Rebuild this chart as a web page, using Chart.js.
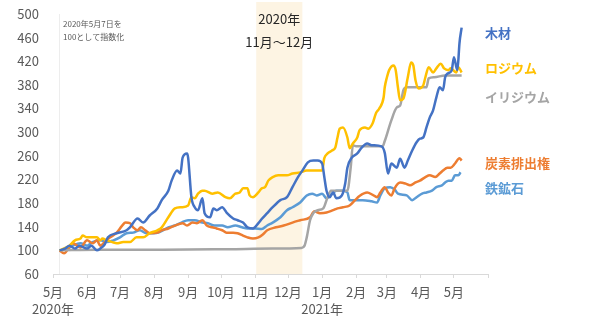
<!DOCTYPE html>
<html><head><meta charset="utf-8">
<script src="https://cdn.jsdelivr.net/npm/chart.js@4.4.1/dist/chart.umd.min.js"></script>
<style>html,body{margin:0;padding:0;background:#fff}#wrap{width:600px;height:330px}</style>
</head><body><div id="wrap"><canvas id="c" width="600" height="330"></canvas></div>
<script>
// days since 2020-05-01
const monthTicks = [0,31,61,92,123,153,184,214,245,276,304,335,365,396];
const monthLabels = [['5月','2020年'],'6月','7月','8月','9月','10月','11月','12月',['1月','2021年'],'2月','3月','4月','5月',''];
const yTicks = [60,100,140,180,220,260,300,340,380,420,460,500];
const startDay = 6;
const shadeFrom = 185, shadeTo = 227;

const seriesNames = ['木材','ロジウム','イリジウム','炭素排出権','鉄鉱石'];

const woodX = [6,11,15,20,24,31,35,40,43,47,50,58,67,70,77,82,88,95,99,105,108,113,116,118,122,123,126,129,132,136,138,143,146,149,154,158,164,168,173,177,182,187,190,195,200,207,213,218,223,227,232,237,241,245,247,249,252,255,258,263,266,268,272,277,281,286,290,299,302,305,308,313,316,320,323,327,331,334,337,340,343,346,349,352,355,357,359,363,365,368,369,370,372];
const woodY = [100,103,108,103,108,103,108,100,103,110,122,129,134,139,154,147,159,171,185,201,218,235,230,257,264,257,190,173,168,188,163,156,171,168,173,164,154,151,147,139,137,146,153,163,173,185,190,207,224,235,249,252,252,247,224,201,190,198,188,193,213,240,257,264,274,281,278,276,265,230,247,240,255,240,252,269,283,289,291,308,325,337,359,376,371,393,399,405,427,405,422,450,477];

const rhodiumX = [6,11,15,20,25,27,31,36,40,43,45,49,54,58,64,70,76,82,88,95,99,105,111,117,123,126,129,132,136,138,145,150,157,161,166,170,173,177,179,182,187,190,193,196,200,205,213,218,225,231,236,245,247,250,254,257,259,261,264,268,270,273,277,279,284,287,291,294,297,301,302,304,306,310,312,314,316,319,323,326,328,330,333,337,339,342,346,349,353,356,360,362,367,369,372];
const rhodiumY = [100,104,108,117,120,125,122,122,122,117,120,117,114,112,114,114,122,122,129,134,139,156,171,173,176,190,188,196,201,201,196,198,190,188,196,198,205,205,193,190,198,205,207,218,224,227,227,230,232,235,235,235,256,264,269,274,291,306,308,291,273,281,291,303,308,306,315,332,340,359,376,393,405,413,405,376,354,357,393,418,413,388,374,379,393,410,401,408,416,408,405,408,401,410,401];

const iridiumX = [6,40,100,160,200,226,229,231,234,237,241,246,250,253,268,271,273,276,300,302,308,313,316,319,322,340,342,347,357,372];
const iridiumY = [100,101,101,102,103,104,108,122,151,163,168,171,190,201,201,240,278,276,276,285,320,342,345,371,376,376,391,393,396,396];

const carbonX = [6,10,18,25,31,36,40,43,47,52,58,63,66,70,73,77,80,84,88,95,99,105,111,118,122,127,131,136,140,145,149,154,158,164,168,173,177,182,187,191,195,203,210,218,225,234,238,243,249,255,259,264,270,275,279,286,291,295,298,302,305,308,311,314,316,321,325,330,334,339,343,348,352,355,359,362,366,370,372];
const carbonY = [100,95,112,105,117,112,117,108,114,122,130,142,147,146,139,134,139,134,129,130,134,137,142,146,142,147,146,151,142,139,137,134,130,130,129,125,122,120,122,127,134,139,142,147,151,156,166,163,164,168,171,173,176,185,192,198,194,190,198,207,198,193,205,213,215,213,210,215,218,224,227,224,230,235,240,240,247,256,252];

const ironX = [6,13,18,25,31,36,43,49,55,61,67,73,79,85,91,97,105,111,117,123,129,136,141,147,154,159,166,172,177,184,190,195,200,207,213,218,225,231,236,240,245,249,254,258,263,268,270,277,282,290,295,298,302,307,311,314,322,327,331,336,340,345,349,354,357,360,363,366,369,371];
const ironY = [100,103,108,112,108,114,117,114,117,122,129,130,134,129,129,131,139,142,147,151,151,147,146,142,142,139,142,139,137,137,136,142,147,156,168,173,181,193,196,193,196,188,196,201,201,198,185,185,185,183,181,193,205,207,203,196,193,185,190,196,198,201,207,210,215,218,218,227,227,232];

const colors = ['#4472C4','#FFC000','#A5A5A5','#ED7D31','#5B9BD5'];
const xs = [woodX, rhodiumX, iridiumX, carbonX, ironX];
const ys = [woodY, rhodiumY, iridiumY, carbonY, ironY];
const labelValues = [467, 408, 359, 247, 205]; // label anchor (value units) for right-side names

const FONT = '"Noto Sans CJK JP", "Noto Sans", sans-serif';

const datasets = seriesNames.map((n, i) => ({
  label: n,
  data: xs[i].map((x, j) => ({x: x, y: ys[i][j]})),
  borderColor: colors[i],
  backgroundColor: colors[i],
  borderWidth: 2.5,
  pointRadius: 0,
  cubicInterpolationMode: 'monotone',
  fill: false,
  order: i
}));

const decor = {
  id: 'decor',
  beforeDatasetsDraw(chart) {
    const {ctx, chartArea, scales} = chart;
    const x = scales.x;
    ctx.save();
    ctx.fillStyle = '#FDF4E3';
    const a = x.getPixelForValue(shadeFrom), b = x.getPixelForValue(shadeTo);
    ctx.fillRect(a, 2, b - a, chartArea.bottom - 2);
    ctx.strokeStyle = '#EDEDED';
    ctx.lineWidth = 1;
    const sx = Math.round(x.getPixelForValue(startDay)) - 0.5;
    ctx.beginPath(); ctx.moveTo(sx, chartArea.top); ctx.lineTo(sx, chartArea.bottom); ctx.stroke();
    ctx.fillStyle = '#262626';
    ctx.font = '13px ' + FONT;
    ctx.textAlign = 'center'; ctx.textBaseline = 'middle';
    ctx.fillText('2020年', (a + b) / 2, 19);
    ctx.fillText('11月～12月', (a + b) / 2, 42);
    ctx.restore();
  },
  afterDraw(chart) {
    const {ctx, scales} = chart;
    ctx.save();
    ctx.fillStyle = '#595959';
    ctx.font = '8px ' + FONT;
    ctx.textAlign = 'left'; ctx.textBaseline = 'middle';
    ctx.fillText('2020年5月7日を', 63, 24);
    ctx.fillText('100として指数化', 63, 37);
    ctx.font = 'bold 13px ' + FONT;
    seriesNames.forEach((n, i) => {
      ctx.fillStyle = colors[i];
      ctx.fillText(n, 485, scales.y.getPixelForValue(labelValues[i]));
    });
    ctx.restore();
  }
};

new Chart(document.getElementById('c'), {
  type: 'line',
  data: {datasets},
  options: {
    responsive: false,
    animation: false,
    events: [],
    layout: {padding: {top: 14, right: 112, left: 0, bottom: 0}, autoPadding: false},
    plugins: {legend: {display: false}, tooltip: {enabled: false}},
    scales: {
      x: {
        type: 'linear', min: 0, max: 396,
        afterBuildTicks: s => { s.ticks = monthTicks.map(v => ({value: v})); },
        afterFit: s => { s.height = 56; s.paddingLeft = 0; s.paddingRight = 0; },
        ticks: {
          autoSkip: false, maxRotation: 0, padding: 6, color: '#595959',
          font: {family: FONT, size: 13, lineHeight: 1.3},
          callback: (v, i) => monthLabels[i]
        },
        grid: {drawOnChartArea: false, drawTicks: true, tickLength: 4, color: '#D9D9D9'},
        border: {display: true, color: '#D9D9D9'}
      },
      y: {
        min: 60, max: 500,
        afterBuildTicks: s => { s.ticks = yTicks.map(v => ({value: v})); },
        afterFit: s => { s.width = 53; s.paddingTop = 0; s.paddingBottom = 0; },
        ticks: {padding: 14, color: '#595959', font: {family: FONT, size: 13}},
        grid: {display: false, drawTicks: false},
        border: {display: false}
      }
    }
  },
  plugins: [decor]
});
</script>
</body></html>
